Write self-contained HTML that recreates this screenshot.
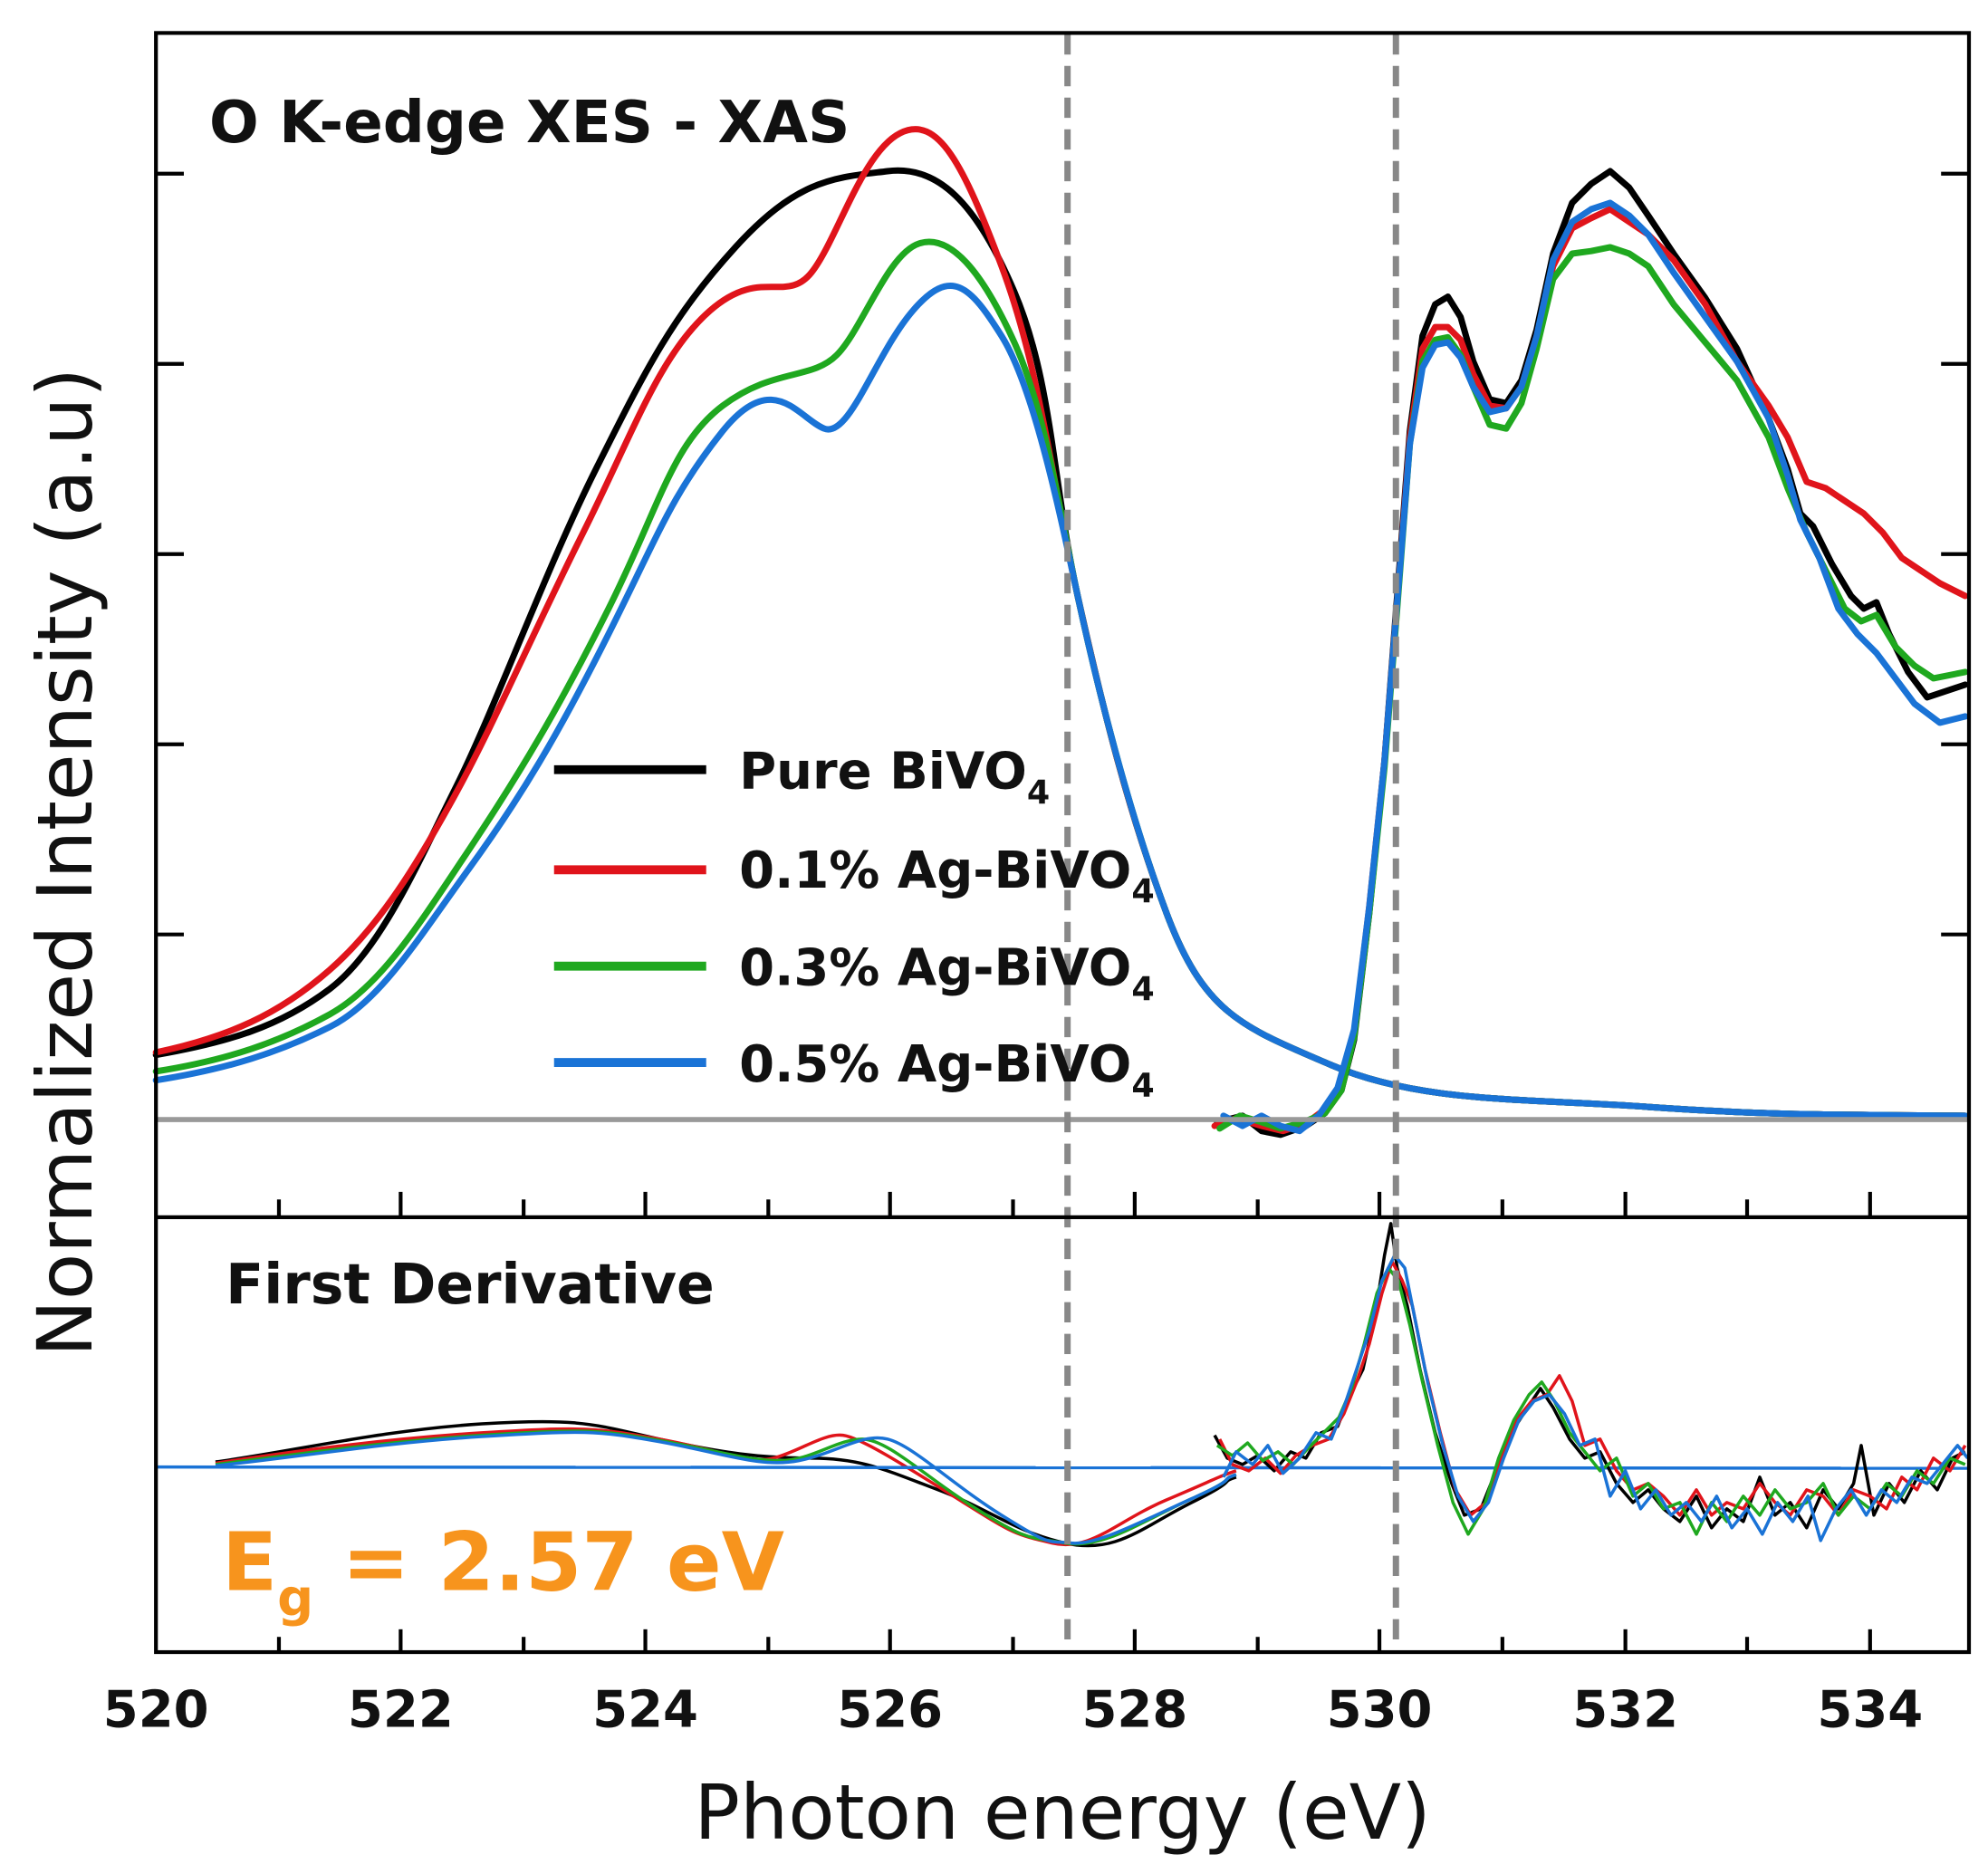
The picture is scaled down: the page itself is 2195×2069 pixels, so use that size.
<!DOCTYPE html>
<html><head><meta charset="utf-8"><style>
html,body{margin:0;padding:0;background:#fff;}
svg{display:block;}
text{font-family:"DejaVu Sans","Liberation Sans",sans-serif;}
</style></head><body>
<svg width="2195" height="2069" viewBox="0 0 1568 1478" xmlns="http://www.w3.org/2000/svg">
<rect width="1568" height="1478" fill="#fff"/>
<g fill="none" stroke-width="5" stroke-linejoin="round" stroke-linecap="round">
<path stroke="#000" d="M123,832 C180,822 220,810 260,780 S330,680 360,620 S430,450 470,370 S530,250 580,195 S660,140 700,135 S770,160 800,230 S830,380 850,470 S890,640 920,720 S980,810 1050,840 S1200,866 1300,873 S1450,879 1550,880"/>
<path stroke="#e0141b" d="M123,830 C180,818 220,800 260,765 S330,680 360,625 S420,500 460,420 S520,280 560,245 S620,240 640,215 S680,120 710,105 S760,130 790,210 S830,380 850,470 S890,640 920,720 S980,810 1050,840 S1200,866 1300,873 S1450,879 1550,880"/>
<path stroke="#1fa81f" d="M123,845 C180,836 220,822 260,800 S330,730 370,670 S440,560 480,480 S530,350 570,320 S640,300 660,280 S700,200 725,192 S775,215 800,270 S835,400 850,470 S890,640 920,720 S980,810 1050,840 S1200,866 1300,873 S1450,879 1550,880"/>
<path stroke="#1a73d6" d="M123,852 C180,843 220,830 260,810 S330,740 370,685 S440,580 480,500 S530,390 570,340 S630,330 650,338 S690,280 720,245 S765,225 790,265 S835,400 850,470 S890,640 920,720 S980,810 1050,840 S1200,866 1300,873 S1450,879 1550,880"/>
<path stroke="#000" d="M960,885 L980,880 995,892 1010,895 1030,888 1045,878 1058,860 1068,820 1080,720 1092,600 1102,470 1112,340 1122,265 1132,240 1142,234 1152,250 1162,285 1175,315 1188,318 1200,300 1212,260 1225,200 1240,160 1255,145 1270,135 1285,148 1300,170 1320,200 1345,235 1370,275 1395,330 1410,370 1420,405 1430,415 1445,445 1460,470 1470,480 1480,475 1490,500 1505,530 1520,550 1535,545 1550,540"/>
<path stroke="#e0141b" d="M958,888 L975,882 995,888 1012,892 1030,886 1045,875 1058,855 1068,815 1080,715 1092,600 1102,475 1112,345 1122,275 1132,258 1142,258 1152,268 1162,295 1175,320 1188,322 1200,305 1212,265 1225,210 1240,180 1255,172 1270,165 1285,175 1300,185 1320,205 1345,240 1370,285 1395,320 1410,345 1425,380 1440,385 1455,395 1470,405 1485,420 1500,440 1515,450 1530,460 1550,470"/>
<path stroke="#1fa81f" d="M962,890 L978,880 995,885 1010,890 1028,885 1045,878 1058,860 1068,818 1080,720 1092,605 1102,480 1112,350 1122,285 1132,268 1142,266 1152,280 1162,305 1175,335 1188,338 1200,318 1212,275 1225,220 1240,200 1255,198 1270,195 1285,200 1300,210 1320,240 1345,270 1370,300 1395,345 1410,385 1425,420 1440,450 1455,480 1468,490 1480,485 1495,510 1510,525 1525,535 1550,530"/>
<path stroke="#1a73d6" d="M965,880 L980,888 995,880 1010,888 1025,892 1040,880 1055,858 1068,812 1080,715 1092,600 1102,475 1112,350 1122,290 1132,272 1142,270 1152,282 1162,305 1175,325 1188,322 1200,305 1212,265 1225,205 1240,175 1255,165 1270,160 1285,170 1300,185 1320,215 1345,250 1370,285 1395,330 1410,375 1420,410 1435,440 1450,480 1465,500 1480,515 1495,535 1510,555 1530,570 1550,565"/>
</g>
<line x1="123" y1="883" x2="1553" y2="883" stroke="#999" stroke-width="4"/>
<g fill="none" stroke-width="2.5" stroke-linejoin="round">
<path stroke="#000" d="M170,1153 C230,1145 300,1128 380,1123 S470,1124 520,1135 S600,1150 640,1150 S700,1160 740,1175 S800,1208 840,1217 S900,1205 940,1185 S960,1170 975,1165"/>
<path stroke="#e0141b" d="M170,1154 C230,1145 300,1135 380,1130 S470,1126 520,1135 S590,1155 610,1150 S650,1130 665,1132 S720,1160 760,1185 S800,1210 830,1217 S880,1200 920,1183 S960,1165 975,1160"/>
<path stroke="#1fa81f" d="M170,1155 C230,1148 300,1137 380,1132 S470,1127 520,1136 S590,1152 615,1152 S660,1135 680,1135 S730,1165 770,1190 S810,1212 840,1217 S900,1200 940,1182 S960,1168 975,1163"/>
<path stroke="#1a73d6" d="M123,1157 L1553,1158"/>
<path stroke="#1a73d6" d="M170,1156 C230,1150 300,1138 380,1133 S470,1128 520,1137 S600,1158 630,1152 S680,1130 700,1135 S750,1170 790,1195 S825,1215 845,1217 S900,1200 940,1182 S960,1168 975,1163"/>
<path stroke="#000" d="M958,1132 L968,1150 980,1155 992,1148 1005,1160 1018,1145 1030,1150 1042,1130 1055,1125 1065,1100 1075,1080 1085,1035 1092,990 1097,965 1102,1000 1110,1030 1120,1080 1132,1130 1145,1170 1155,1195 1168,1190 1180,1160 1192,1130 1205,1110 1215,1095 1225,1110 1238,1135 1250,1150 1262,1145 1275,1170 1288,1185 1300,1175 1312,1190 1325,1200 1338,1180 1350,1205 1362,1190 1375,1200 1388,1165 1400,1195 1412,1185 1425,1205 1438,1175 1450,1190 1462,1170 1468,1140 1478,1195 1490,1170 1502,1185 1515,1160 1528,1175 1540,1150 1550,1145"/>
<path stroke="#e0141b" d="M962,1135 L972,1155 985,1160 998,1150 1010,1162 1022,1148 1035,1140 1048,1135 1060,1115 1070,1090 1080,1060 1090,1020 1098,995 1106,1010 1114,1030 1124,1080 1136,1130 1148,1175 1160,1195 1172,1185 1184,1150 1196,1120 1208,1105 1220,1100 1230,1085 1240,1105 1250,1140 1262,1135 1275,1160 1288,1175 1300,1170 1312,1180 1325,1195 1338,1175 1350,1195 1362,1185 1375,1190 1388,1170 1400,1185 1412,1195 1425,1175 1438,1180 1450,1195 1462,1175 1475,1180 1488,1190 1500,1165 1512,1175 1525,1150 1538,1160 1550,1140"/>
<path stroke="#1fa81f" d="M960,1140 L972,1148 984,1138 996,1152 1008,1145 1020,1155 1032,1142 1044,1130 1056,1118 1066,1095 1076,1060 1086,1020 1095,1000 1103,1010 1112,1045 1122,1090 1134,1140 1146,1185 1158,1210 1170,1190 1182,1150 1194,1120 1206,1100 1216,1090 1226,1105 1238,1130 1250,1145 1262,1160 1275,1150 1288,1180 1300,1170 1312,1190 1325,1185 1338,1210 1350,1185 1362,1200 1375,1180 1388,1195 1400,1175 1412,1190 1425,1185 1438,1170 1450,1195 1462,1180 1475,1190 1488,1170 1500,1180 1512,1160 1525,1170 1538,1150 1550,1155"/>
<path stroke="#1a73d6" d="M965,1165 L975,1145 988,1155 1000,1140 1012,1162 1025,1150 1038,1130 1050,1135 1060,1110 1070,1080 1080,1050 1090,1010 1100,990 1108,1000 1116,1040 1126,1090 1138,1140 1150,1180 1162,1200 1174,1185 1186,1150 1198,1120 1210,1105 1222,1100 1234,1115 1246,1140 1258,1135 1270,1180 1282,1160 1294,1190 1306,1175 1318,1195 1330,1185 1342,1200 1354,1180 1366,1205 1378,1190 1390,1210 1402,1185 1414,1200 1426,1180 1436,1215 1448,1190 1460,1175 1472,1195 1484,1175 1496,1185 1508,1165 1520,1170 1532,1155 1544,1140 1552,1150"/>
</g>
<line x1="842" y1="27" x2="842" y2="1302" stroke="#888" stroke-width="5" stroke-dasharray="16,9"/>
<line x1="1101" y1="27" x2="1101" y2="1302" stroke="#888" stroke-width="5" stroke-dasharray="16,9"/>
<rect x="123" y="26" width="1430" height="1277" fill="none" stroke="#000" stroke-width="3"/>
<line x1="123" y1="960" x2="1553" y2="960" stroke="#000" stroke-width="3"/>
<g stroke="#000" stroke-width="3">
<line x1="123" y1="137" x2="145" y2="137"/><line x1="1531" y1="137" x2="1553" y2="137"/>
<line x1="123" y1="287" x2="145" y2="287"/><line x1="1531" y1="287" x2="1553" y2="287"/>
<line x1="123" y1="437" x2="145" y2="437"/><line x1="1531" y1="437" x2="1553" y2="437"/>
<line x1="123" y1="587" x2="145" y2="587"/><line x1="1531" y1="587" x2="1553" y2="587"/>
<line x1="123" y1="737" x2="145" y2="737"/><line x1="1531" y1="737" x2="1553" y2="737"/>
<line x1="220" y1="960" x2="220" y2="946"/><line x1="316" y1="960" x2="316" y2="940"/>
<line x1="413" y1="960" x2="413" y2="946"/><line x1="509" y1="960" x2="509" y2="940"/>
<line x1="606" y1="960" x2="606" y2="946"/><line x1="702" y1="960" x2="702" y2="940"/>
<line x1="799" y1="960" x2="799" y2="946"/><line x1="895" y1="960" x2="895" y2="940"/>
<line x1="992" y1="960" x2="992" y2="946"/><line x1="1088" y1="960" x2="1088" y2="940"/>
<line x1="1185" y1="960" x2="1185" y2="946"/><line x1="1282" y1="960" x2="1282" y2="940"/>
<line x1="1378" y1="960" x2="1378" y2="946"/><line x1="1475" y1="960" x2="1475" y2="940"/>
<line x1="220" y1="1303" x2="220" y2="1291"/><line x1="316" y1="1303" x2="316" y2="1285"/>
<line x1="413" y1="1303" x2="413" y2="1291"/><line x1="509" y1="1303" x2="509" y2="1285"/>
<line x1="606" y1="1303" x2="606" y2="1291"/><line x1="702" y1="1303" x2="702" y2="1285"/>
<line x1="799" y1="1303" x2="799" y2="1291"/><line x1="895" y1="1303" x2="895" y2="1285"/>
<line x1="992" y1="1303" x2="992" y2="1291"/><line x1="1088" y1="1303" x2="1088" y2="1285"/>
<line x1="1185" y1="1303" x2="1185" y2="1291"/><line x1="1282" y1="1303" x2="1282" y2="1285"/>
<line x1="1378" y1="1303" x2="1378" y2="1291"/><line x1="1475" y1="1303" x2="1475" y2="1285"/>
</g>
<g font-size="40" font-weight="bold" text-anchor="middle" fill="#111">
<text x="123" y="1362">520</text><text x="316" y="1362">522</text><text x="509" y="1362">524</text>
<text x="702" y="1362">526</text><text x="895" y="1362">528</text><text x="1088" y="1362">530</text>
<text x="1282" y="1362">532</text><text x="1475" y="1362">534</text>
</g>
<text x="838" y="1450" font-size="60" text-anchor="middle" fill="#111">Photon energy (eV)</text>
<text transform="translate(72,680) rotate(-90)" font-size="60" text-anchor="middle" fill="#111">Normalized Intensity (a.u)</text>
<text x="165" y="112" font-size="46" font-weight="bold" fill="#111">O K-edge XES - XAS</text>
<text x="178" y="1028" font-size="44" font-weight="bold" fill="#111">First Derivative</text>
<text x="175" y="1254" font-size="64" font-weight="bold" fill="#f7941d">E<tspan font-size="40" dy="20">g</tspan><tspan dy="-20"> = 2.57 eV</tspan></text>
<g stroke-width="7">
<line x1="437" y1="607" x2="557" y2="607" stroke="#000"/>
<line x1="437" y1="686" x2="557" y2="686" stroke="#e0141b"/>
<line x1="437" y1="762" x2="557" y2="762" stroke="#1fa81f"/>
<line x1="437" y1="838" x2="557" y2="838" stroke="#1a73d6"/>
</g>
<g font-size="40" font-weight="bold" fill="#111">
<text x="583" y="622">Pure BiVO<tspan font-size="26" dy="12">4</tspan></text>
<text x="583" y="700">0.1% Ag-BiVO<tspan font-size="26" dy="12">4</tspan></text>
<text x="583" y="777">0.3% Ag-BiVO<tspan font-size="26" dy="12">4</tspan></text>
<text x="583" y="853">0.5% Ag-BiVO<tspan font-size="26" dy="12">4</tspan></text>
</g>
</svg>
</body></html>
